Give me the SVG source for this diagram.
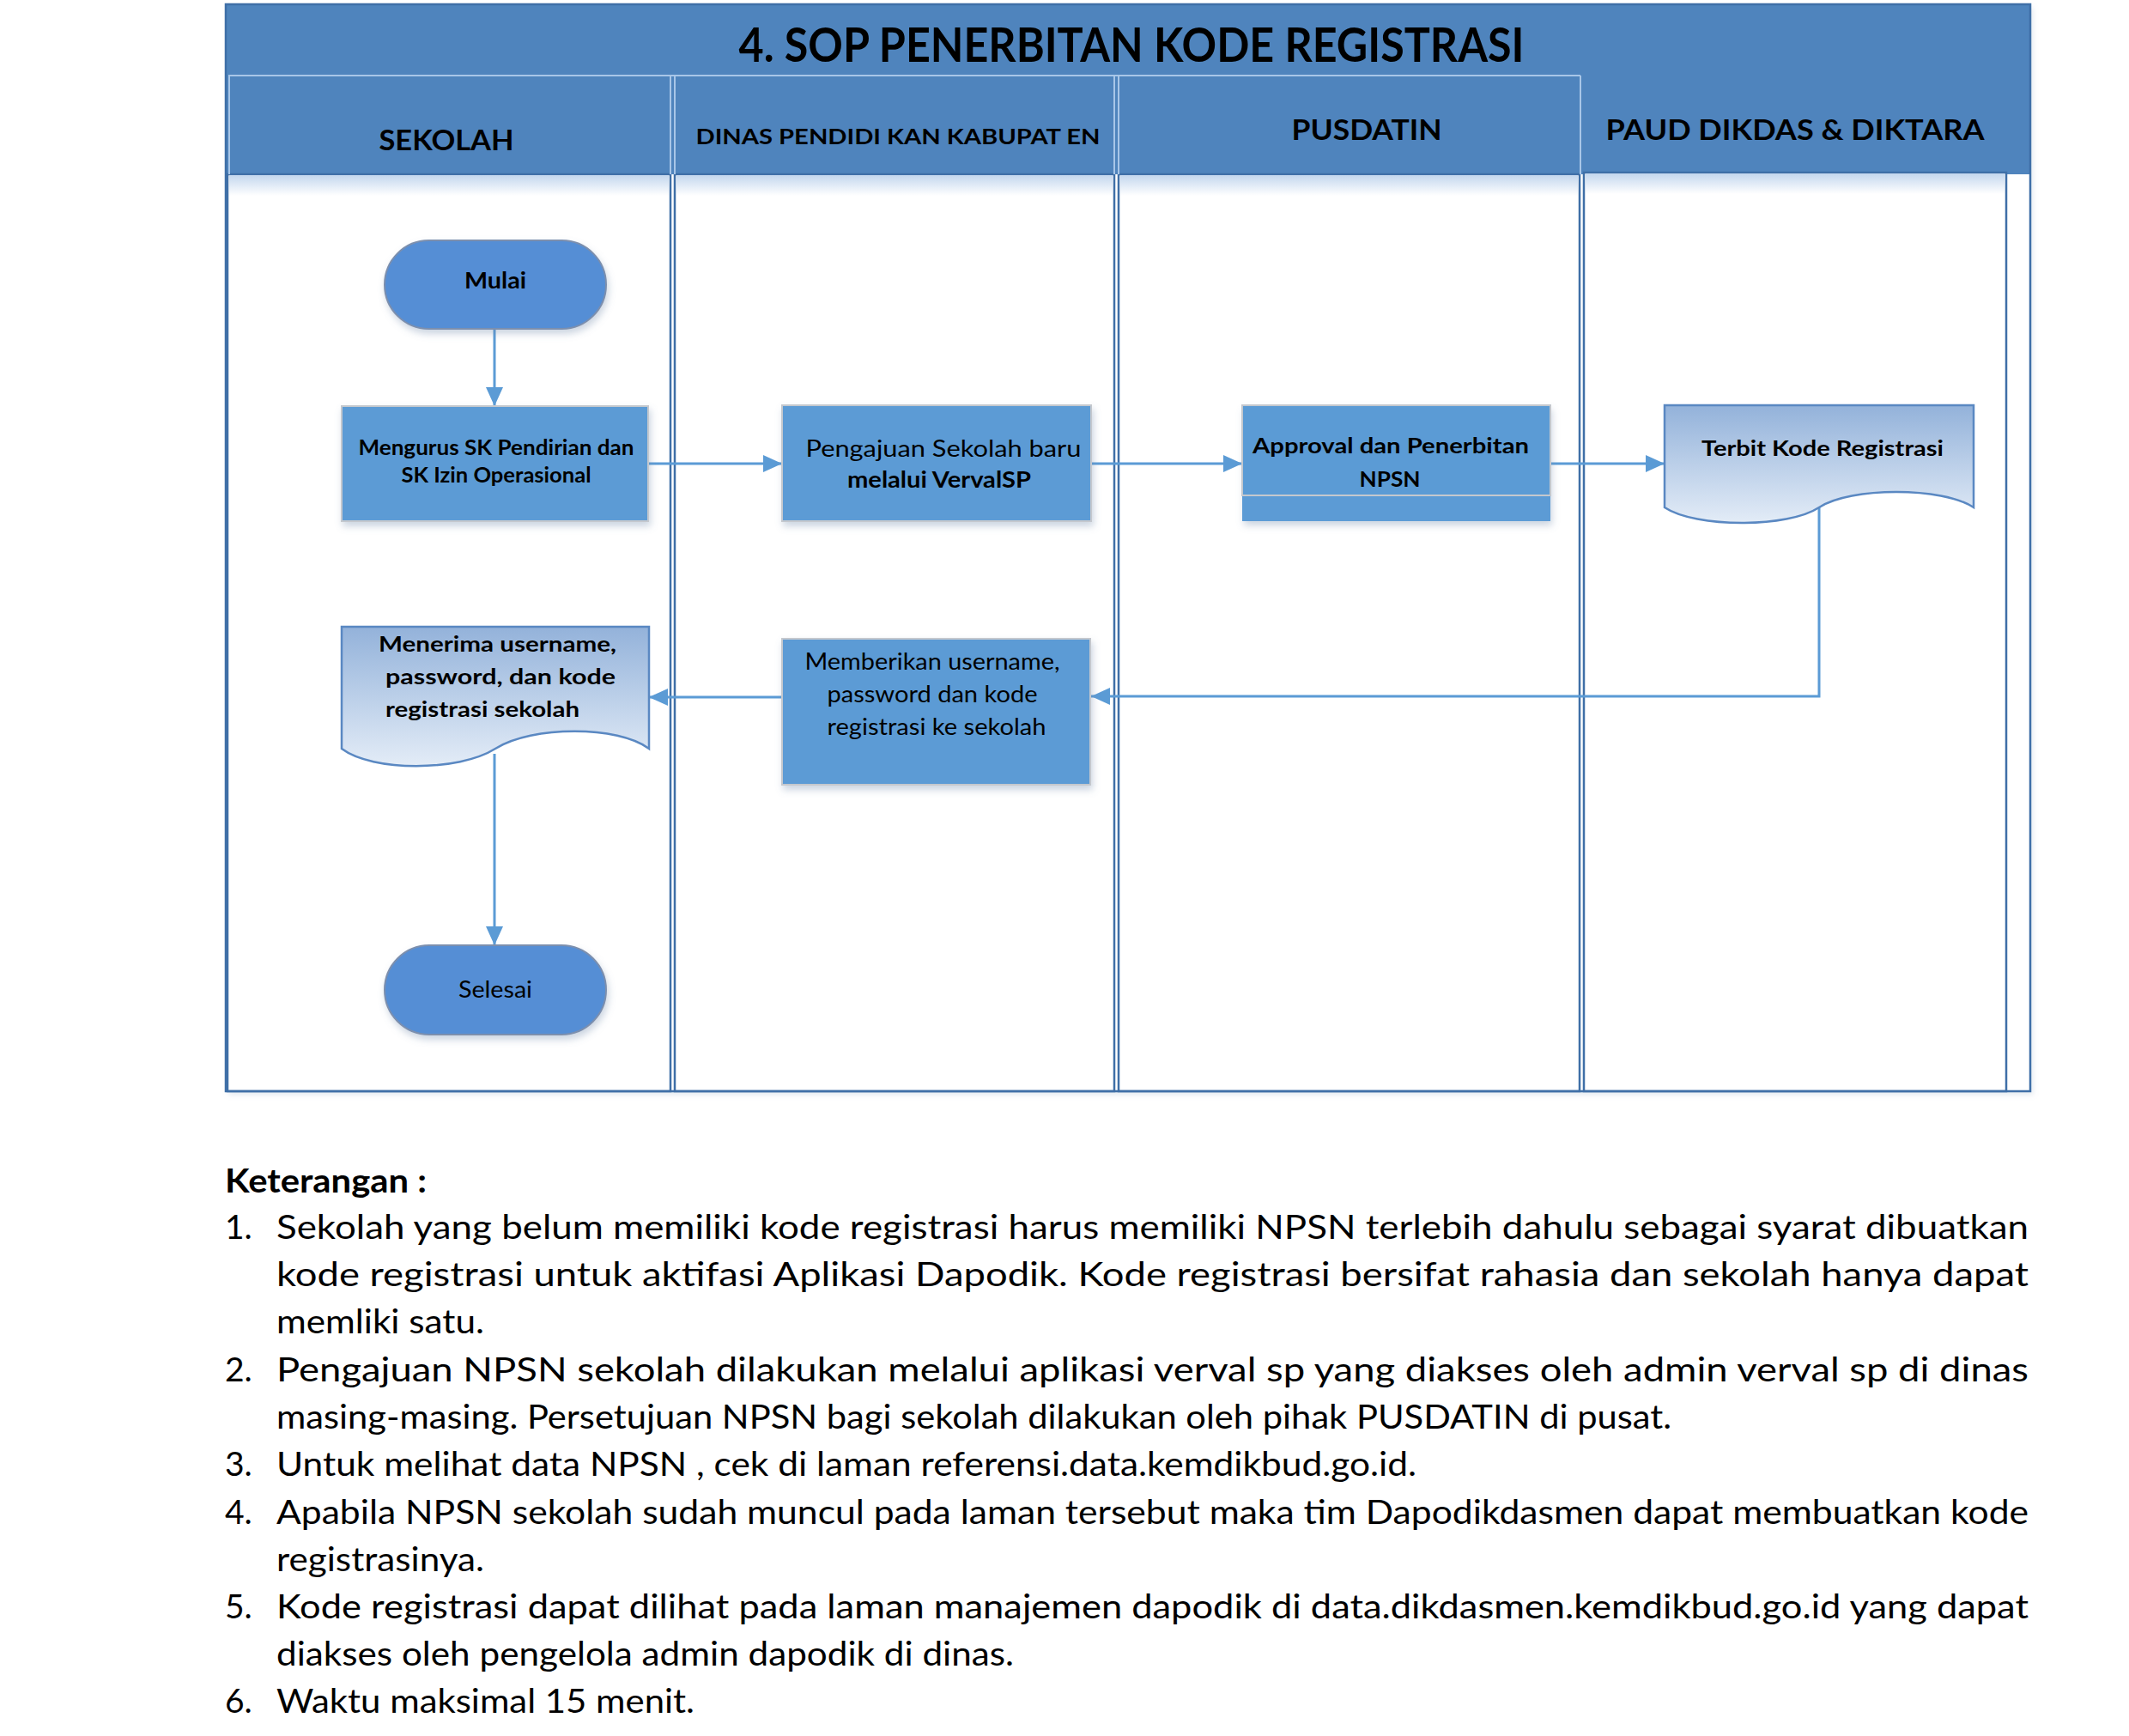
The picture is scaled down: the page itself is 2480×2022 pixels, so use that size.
<svg xmlns="http://www.w3.org/2000/svg" width="2480" height="2022" viewBox="0 0 2480 2022">
<style>
.t{font-family:Lato,"Open Sans","Liberation Sans",sans-serif;fill:#000}
.b{font-weight:bold}
.c{text-anchor:middle}
.node{font-size:25px}
.note{font-size:39px}
.proc{fill:#5B9BD5;stroke:#C4C8CE;stroke-width:2}
.term{fill:#558ED5;stroke:#7C8FAE;stroke-width:2}
.doc{fill:url(#docg);stroke:#5A88C2;stroke-width:2.5}
.lane{fill:#fff;stroke:#3F6FA7;stroke-width:2.5}
.conn{fill:none;stroke:#5B9BD5;stroke-width:3}
.hdrline{stroke:#A8C6E8;stroke-width:2}
</style>
<defs>
<linearGradient id="docg" x1="0" y1="0" x2="0" y2="1">
<stop offset="0" stop-color="#93B2DA"/>
<stop offset="1" stop-color="#E3ECF7"/>
</linearGradient>
<linearGradient id="hdrg" x1="0" y1="0" x2="0" y2="1">
<stop offset="0" stop-color="#C3D7EE"/>
<stop offset="1" stop-color="#FFFFFF"/>
</linearGradient>
<filter id="sh" x="-10%" y="-10%" width="130%" height="140%">
<feDropShadow dx="2" dy="5" stdDeviation="4" flood-color="#6a86a8" flood-opacity="0.35"/>
</filter>
<filter id="fsh" x="-2%" y="-2%" width="104%" height="104%">
<feDropShadow dx="3" dy="4" stdDeviation="3" flood-color="#8aa0bd" flood-opacity="0.25"/>
</filter>
<marker id="arr" markerUnits="userSpaceOnUse" markerWidth="22" markerHeight="20" refX="22" refY="10" orient="auto">
<path d="M0,0 L22,10 L0,20 Z" fill="#5B9BD5"/>
</marker>
</defs>
<rect width="2480" height="2022" fill="#fff"/>

<g id="swimlanes">
<rect x="263" y="5" width="2102" height="1266" fill="#fff" filter="url(#fsh)"/>
<rect x="263" y="5" width="2102" height="198" fill="#4F84BD"/>
<rect class="lane" x="265" y="203" width="516" height="1068"/>
<rect class="lane" x="786" y="203" width="512" height="1068"/>
<rect class="lane" x="1303" y="203" width="537" height="1068"/>
<rect class="lane" x="1845" y="201" width="492" height="1070"/>
<rect x="267" y="204" width="512" height="24" fill="url(#hdrg)"/>
<rect x="788" y="204" width="508" height="24" fill="url(#hdrg)"/>
<rect x="1305" y="204" width="533" height="24" fill="url(#hdrg)"/>
<rect x="1847" y="202" width="488" height="24" fill="url(#hdrg)"/>
<line class="hdrline" x1="266" y1="88" x2="1841" y2="88"/>
<line class="hdrline" x1="267" y1="88" x2="267" y2="203"/>
<line class="hdrline" x1="781" y1="88" x2="781" y2="203"/>
<line class="hdrline" x1="786" y1="88" x2="786" y2="203"/>
<line class="hdrline" x1="1298" y1="88" x2="1298" y2="203"/>
<line class="hdrline" x1="1303" y1="88" x2="1303" y2="203"/>
<line class="hdrline" x1="1841" y1="88" x2="1841" y2="203"/>
<rect x="263" y="5" width="2102" height="1266" fill="none" stroke="#3F6FA7" stroke-width="2.5"/>
<text class="t b c" x="1318" y="72" font-size="55" textLength="915" lengthAdjust="spacingAndGlyphs">4. SOP PENERBITAN KODE REGISTRASI</text>
<text class="t b c" x="520" y="175" font-size="32" textLength="157" lengthAdjust="spacingAndGlyphs">SEKOLAH</text>
<text class="t b c" x="1046" y="168" font-size="24" textLength="471" lengthAdjust="spacingAndGlyphs">DINAS PENDIDI KAN KABUPAT EN</text>
<text class="t b c" x="1592" y="163" font-size="32" textLength="175" lengthAdjust="spacingAndGlyphs">PUSDATIN</text>
<text class="t b c" x="2091" y="163" font-size="32" textLength="441" lengthAdjust="spacingAndGlyphs">PAUD DIKDAS &amp; DIKTARA</text>
</g>

<g id="connectors">
<line class="conn" x1="576" y1="383" x2="576" y2="473" marker-end="url(#arr)"/>
<line class="conn" x1="755" y1="540" x2="911" y2="540" marker-end="url(#arr)"/>
<line class="conn" x1="1271" y1="540" x2="1447" y2="540" marker-end="url(#arr)"/>
<line class="conn" x1="1806" y1="540" x2="1939" y2="540" marker-end="url(#arr)"/>
<polyline class="conn" points="2119,588 2119,811 1271,811" marker-end="url(#arr)"/>
<line class="conn" x1="911" y1="812" x2="756" y2="812" marker-end="url(#arr)"/>
<line class="conn" x1="576" y1="878" x2="576" y2="1101" marker-end="url(#arr)"/>
</g>

<g id="node-mulai">
<rect class="term" x="448" y="280" width="258" height="103" rx="51.5" filter="url(#sh)"/>
<text class="t b c" x="577" y="336" font-size="26" textLength="72" lengthAdjust="spacingAndGlyphs">Mulai</text>
</g>

<g id="node-mengurus">
<rect class="proc" x="398" y="473" width="357" height="134" filter="url(#sh)"/>
<text class="t b c node" x="578" y="530" textLength="321" lengthAdjust="spacingAndGlyphs">Mengurus SK Pendirian dan</text>
<text class="t b c node" x="578" y="562" textLength="221" lengthAdjust="spacingAndGlyphs">SK Izin Operasional</text>
</g>

<g id="node-pengajuan">
<rect class="proc" x="911" y="472" width="360" height="135" filter="url(#sh)"/>
<text class="t c" x="1099" y="532" font-size="27" textLength="321" lengthAdjust="spacingAndGlyphs">Pengajuan Sekolah baru</text>
<text class="t b c" x="1094" y="568" font-size="27" textLength="214" lengthAdjust="spacingAndGlyphs">melalui VervalSP</text>
</g>

<g id="node-approval">
<rect x="1447" y="472" width="359" height="135" fill="#5B9BD5" filter="url(#sh)"/>
<rect class="proc" x="1447" y="472" width="359" height="105"/>
<text class="t b c node" x="1620" y="528" textLength="322" lengthAdjust="spacingAndGlyphs">Approval dan Penerbitan</text>
<text class="t b c node" x="1619" y="567" textLength="71" lengthAdjust="spacingAndGlyphs">NPSN</text>
</g>

<g id="node-terbit">
<path class="doc" d="M1939,472 H2299 V591 C2263,567 2155,567 2119,591 C2083,615 1975,615 1939,591 Z"/>
<text class="t b c node" x="2123" y="531" textLength="282" lengthAdjust="spacingAndGlyphs">Terbit Kode Registrasi</text>
</g>

<g id="node-memberikan">
<rect class="proc" x="911" y="744" width="359" height="170" filter="url(#sh)"/>
<text class="t c" x="1086" y="780" font-size="26" textLength="297" lengthAdjust="spacingAndGlyphs">Memberikan username,</text>
<text class="t c" x="1086" y="818" font-size="26" textLength="245" lengthAdjust="spacingAndGlyphs">password dan kode</text>
<text class="t c" x="1091" y="856" font-size="26" textLength="255" lengthAdjust="spacingAndGlyphs">registrasi ke sekolah</text>
</g>

<g id="node-menerima">
<path class="doc" d="M398,730 H756 V872 C720,845 620,845 577,872 C534,899 434,899 398,872 Z"/>
<text class="t b node" x="441" y="759" textLength="277" lengthAdjust="spacingAndGlyphs">Menerima username,</text>
<text class="t b node" x="449" y="797" textLength="268" lengthAdjust="spacingAndGlyphs">password,  dan kode</text>
<text class="t b node" x="449" y="835" textLength="226" lengthAdjust="spacingAndGlyphs">registrasi sekolah</text>
</g>

<g id="node-selesai">
<rect class="term" x="448" y="1101" width="258" height="104" rx="52" filter="url(#sh)"/>
<text class="t c" x="577" y="1162" font-size="27" textLength="86" lengthAdjust="spacingAndGlyphs">Selesai</text>
</g>

<g id="keterangan">
<text class="t b note" x="262" y="1389" textLength="235" lengthAdjust="spacingAndGlyphs">Keterangan :</text>
<text class="t note" x="262" y="1443">1.</text>
<text class="t note" x="322" y="1443" textLength="2041" lengthAdjust="spacingAndGlyphs">Sekolah yang belum memiliki kode registrasi harus memiliki NPSN terlebih dahulu sebagai syarat  dibuatkan</text>
<text class="t note" x="322" y="1498" textLength="2041" lengthAdjust="spacingAndGlyphs">kode registrasi untuk aktifasi Aplikasi Dapodik. Kode registrasi bersifat rahasia dan sekolah  hanya dapat</text>
<text class="t note" x="322" y="1553" textLength="242" lengthAdjust="spacingAndGlyphs">memliki satu.</text>
<text class="t note" x="262" y="1609">2.</text>
<text class="t note" x="322" y="1609" textLength="2041" lengthAdjust="spacingAndGlyphs">Pengajuan NPSN sekolah dilakukan melalui aplikasi verval sp yang diakses oleh admin verval sp di dinas</text>
<text class="t note" x="322" y="1664" textLength="1625" lengthAdjust="spacingAndGlyphs">masing-masing. Persetujuan NPSN bagi sekolah dilakukan oleh pihak PUSDATIN di pusat.</text>
<text class="t note" x="262" y="1719">3.</text>
<text class="t note" x="322" y="1719" textLength="1328" lengthAdjust="spacingAndGlyphs">Untuk melihat data NPSN , cek di laman referensi.data.kemdikbud.go.id.</text>
<text class="t note" x="262" y="1775">4.</text>
<text class="t note" x="322" y="1775" textLength="2041" lengthAdjust="spacingAndGlyphs">Apabila NPSN sekolah sudah muncul pada laman tersebut maka tim Dapodikdasmen dapat membuatkan  kode</text>
<text class="t note" x="322" y="1830" textLength="242" lengthAdjust="spacingAndGlyphs">registrasinya.</text>
<text class="t note" x="262" y="1885">5.</text>
<text class="t note" x="322" y="1885" textLength="2041" lengthAdjust="spacingAndGlyphs">Kode registrasi dapat dilihat pada laman manajemen dapodik di data.dikdasmen.kemdikbud.go.id yang  dapat</text>
<text class="t note" x="322" y="1940" textLength="859" lengthAdjust="spacingAndGlyphs">diakses oleh pengelola admin dapodik di dinas.</text>
<text class="t note" x="262" y="1995">6.</text>
<text class="t note" x="322" y="1995" textLength="487" lengthAdjust="spacingAndGlyphs">Waktu maksimal 15 menit.</text>
</g>
</svg>
